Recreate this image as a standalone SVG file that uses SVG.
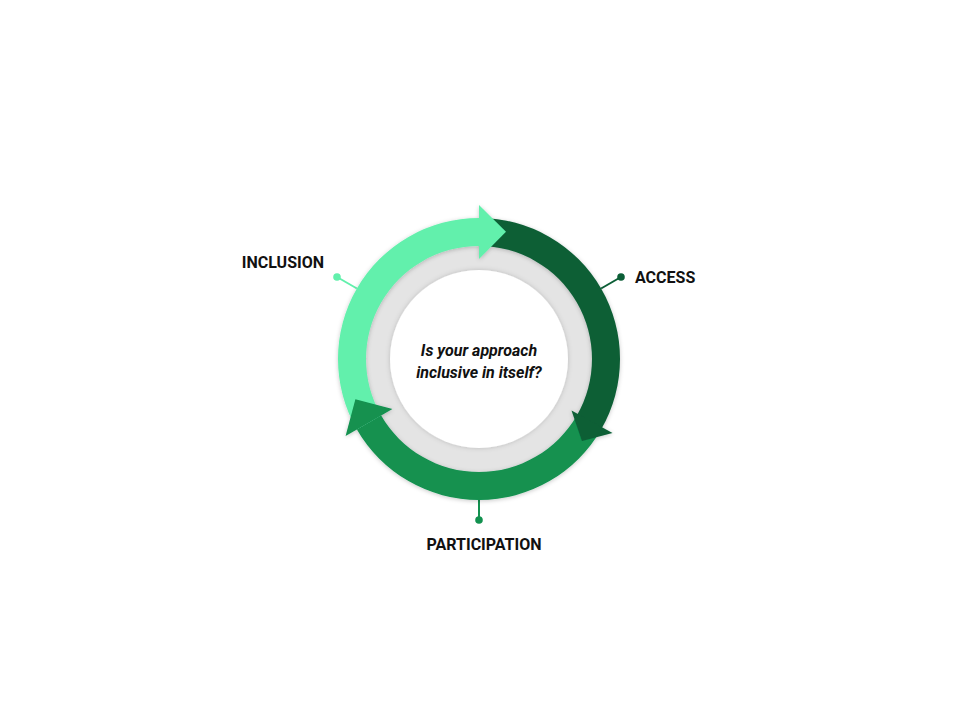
<svg xmlns="http://www.w3.org/2000/svg" width="960" height="720" viewBox="0 0 960 720">
  <defs>
    <filter id="shadow" x="-20%" y="-20%" width="140%" height="140%">
      <feDropShadow dx="0" dy="1" stdDeviation="2" flood-color="#000" flood-opacity="0.22"/>
    </filter>
    <filter id="soft" x="-20%" y="-20%" width="140%" height="140%">
      <feDropShadow dx="0" dy="0" stdDeviation="2.5" flood-color="#000" flood-opacity="0.18"/>
    </filter>
  </defs>
  <style>
    .label { font-family: Roboto, "Liberation Sans", Arial, sans-serif; font-weight: 700; font-size: 16px; fill: #111; }
    .center { font-family: Roboto, "Liberation Sans", Arial, sans-serif; font-weight: 700; font-style: italic; font-size: 16px; fill: #111; }
    .light { fill: #62F0AC; }
    .dark { fill: #0B5E36; }
    .mid { fill: #12914F; }
  </style>
  <rect width="960" height="720" fill="#ffffff"/>

  <g id="hub">
    <circle cx="479" cy="359" r="120" fill="#E4E4E4" filter="url(#soft)"/>
    <circle cx="479" cy="359" r="89" fill="#ffffff" filter="url(#soft)"/>
    <text class="center" x="479" y="356" text-anchor="middle">Is your approach</text>
    <text class="center" x="479" y="378" text-anchor="middle">inclusive in itself?</text>
  </g>

  <g id="connectors">
    <line x1="356.9" y1="288.5" x2="337" y2="277" stroke="#62F0AC" stroke-width="2"/>
    <circle cx="337" cy="277" r="3.8" class="light"/>
    <line x1="601.1" y1="288.5" x2="621" y2="277" stroke="#0B5E36" stroke-width="2"/>
    <circle cx="621" cy="277" r="3.8" class="dark"/>
    <line x1="479" y1="500" x2="479" y2="520" stroke="#12914F" stroke-width="2"/>
    <circle cx="479" cy="520" r="3.8" class="mid"/>
  </g>

  <g id="ring" filter="url(#shadow)">
    <path class="light" d="M356.89,429.5 A141,141 0 0 1 479,218 L479,246 A113,113 0 0 0 381.14,415.5 Z"/>
    <path class="dark" d="M479,218 A141,141 0 0 1 601.11,429.5 L576.86,415.5 A113,113 0 0 0 479,246 Z"/>
    <path class="mid" d="M601.11,429.5 A141,141 0 0 1 356.89,429.5 L381.14,415.5 A113,113 0 0 0 576.86,415.5 Z"/>
    <polygon class="light" points="479,205 506,231.8 479,259"/>
    <polygon class="dark" points="612.5,433 582,441 571.5,410.5"/>
    <polygon class="mid" points="345.6,436 355.4,399.2 392.4,409"/>
  </g>

  <g id="inclusion">
    <text class="label" x="324" y="268" text-anchor="end">INCLUSION</text>
  </g>
  <g id="access">
    <text class="label" x="635" y="283">ACCESS</text>
  </g>
  <g id="participation">
    <text class="label" x="484" y="550" text-anchor="middle">PARTICIPATION</text>
  </g>
</svg>
